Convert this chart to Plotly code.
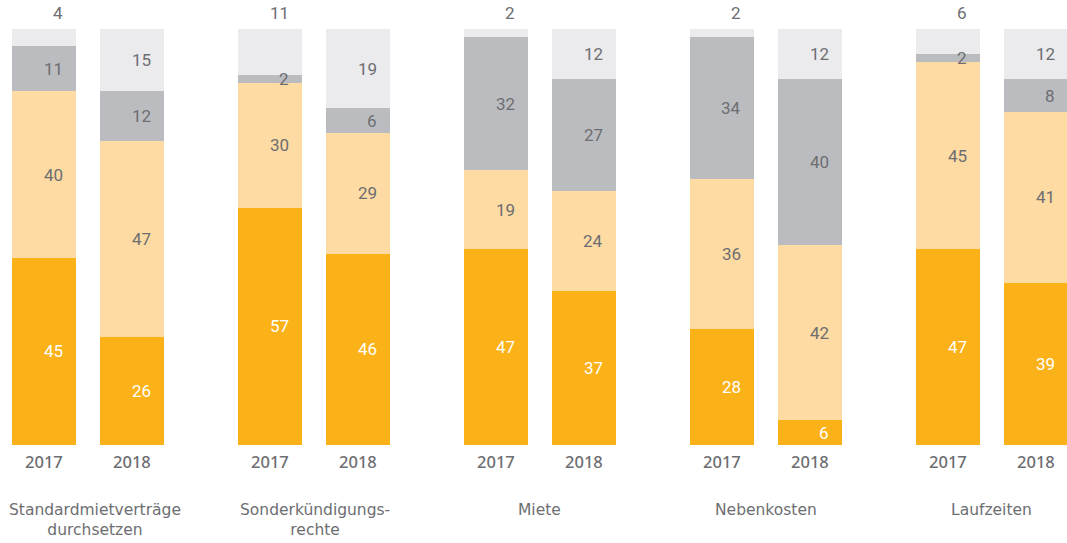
import plotly.graph_objects as go

# Survey topics (two-line labels break at <br>)
categories = ["Standardmietverträge<br>durchsetzen", "Sonderkündigungs-<br>rechte",
              "Miete", "Nebenkosten", "Laufzeiten"]
years = ["2017", "2018"]

# Shares in percent, bottom segment first, one list per year
seg_a_2017 = [45, 57, 47, 28, 47]
seg_a_2018 = [26, 46, 37, 6, 39]
seg_b_2017 = [40, 30, 19, 36, 45]
seg_b_2018 = [47, 29, 24, 42, 41]
seg_c_2017 = [11, 2, 32, 34, 2]
seg_c_2018 = [12, 6, 27, 40, 8]
seg_d_2017 = [4, 11, 2, 2, 6]
seg_d_2018 = [15, 19, 12, 12, 12]

series = [
    ({"2017": seg_a_2017, "2018": seg_a_2018}, "#FBB118", "#FFFFFF"),
    ({"2017": seg_b_2017, "2018": seg_b_2018}, "#FEDBA2", "#6D6E71"),
    ({"2017": seg_c_2017, "2018": seg_c_2018}, "#BBBCBF", "#6D6E71"),
    ({"2017": seg_d_2017, "2018": seg_d_2018}, "#EBEBED", "#6D6E71"),
]

# Layout geometry (x axis runs in screen pixels)
W, H = 1067, 543
BOTTOM = 98
GROUP_START, GROUP_PITCH = 87.5, 226.1
BAR_W, BAR_OFFSET = 64, 44
LABEL_PAD = 11
PX_PER_UNIT = 4.16
Y_MAX = (H - BOTTOM) / PX_PER_UNIT

group_x = [GROUP_START + GROUP_PITCH * g for g in range(len(categories))]
bar_x = {"2017": [c - BAR_OFFSET for c in group_x],
         "2018": [c + BAR_OFFSET for c in group_x]}

GRAY = "#6D6E71"
VALUE_FONT = dict(family="Roboto", size=17, weight=400)

fig = go.Figure()
annotations = []

for yr in years:
    base = [0] * len(categories)
    for k, (vals, color, txt_color) in enumerate(series):
        v = vals[yr]
        fig.add_trace(go.Bar(
            x=bar_x[yr], y=v, base=base, width=BAR_W,
            marker=dict(color=color, line=dict(width=0)),
            showlegend=False, hoverinfo="skip",
        ))
        top_segment = k == len(series) - 1
        for i, val in enumerate(v):
            xr = bar_x[yr][i] + BAR_W / 2 - LABEL_PAD
            if top_segment and yr == "2017":
                # first-year top share sits above its bar
                annotations.append(dict(
                    x=xr, y=base[i] + val, xref="x", yref="y",
                    text=str(val), showarrow=False, xanchor="right",
                    yanchor="middle", yshift=16,
                    font=dict(VALUE_FONT, color=GRAY)))
            else:
                annotations.append(dict(
                    x=xr, y=base[i] + val / 2, xref="x", yref="y",
                    text=str(val), showarrow=False, xanchor="right",
                    yanchor="middle",
                    font=dict(VALUE_FONT, color=txt_color)))
        base = [b + val for b, val in zip(base, v)]

    # year under each bar
    for x in bar_x[yr]:
        annotations.append(dict(
            x=x, y=0, xref="x", yref="y", text=yr, showarrow=False,
            xanchor="center", yanchor="middle", yshift=-16,
            font=dict(family="Noto Sans", size=16.5, weight=500, color=GRAY)))

# topic names under each pair of bars
cat_shift = [7, 1, 0, 0, 0]
for c, name, dx in zip(group_x, categories, cat_shift):
    annotations.append(dict(
        x=c, y=0, xref="x", yref="y", text=name, showarrow=False,
        xanchor="center", yanchor="top", yshift=-54, xshift=dx,
        align="center",
        font=dict(family="DejaVu Sans", size=15.5, color=GRAY)))

fig.update_layout(
    width=W, height=H,
    margin=dict(l=0, r=0, t=0, b=BOTTOM),
    paper_bgcolor="white", plot_bgcolor="white",
    barmode="overlay", bargap=0,
    xaxis=dict(range=[0, W], visible=False, fixedrange=True),
    yaxis=dict(range=[0, Y_MAX], visible=False, fixedrange=True),
    annotations=annotations,
)

fig.write_html("out.html")
